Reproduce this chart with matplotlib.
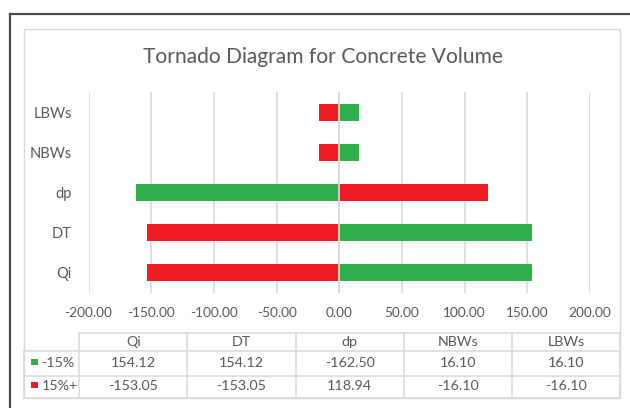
import matplotlib
matplotlib.use("Agg")
import matplotlib.pyplot as plt
from matplotlib.lines import Line2D
from matplotlib.patches import Rectangle

# Sensitivity data for concrete volume
categories = ["Qi", "DT", "dp", "NBWs", "LBWs"]
series_names = ["-15%", "15%+"]
minus15 = [154.12, 154.12, -162.50, 16.10, 16.10]
plus15 = [-153.05, -153.05, 118.94, -16.10, -16.10]
xticks = [-200, -150, -100, -50, 0, 50, 100, 150, 200]
title = "Tornado Diagram for Concrete Volume"

GREEN = "#31AF4B"
RED = "#EE1C25"
TEXT = "#595959"
GRID = "#D9D9D9"
FONT = "Lato"

W, H = 630, 408
fig = plt.figure(figsize=(W / 100, H / 100), dpi=100)
plt.rcParams["font.family"] = [FONT, "DejaVu Sans"]


def fx(px):
    return px / W


def fy(py):
    return 1 - py / H


# plot area in pixel coordinates
left, right, top, bottom = 88.5, 590.0, 92.0, 293.0
ax = fig.add_axes([fx(left), fy(bottom), fx(right - left), (bottom - top) / H])

ypos = list(range(len(categories)))
bar_h = 0.42
ax.barh(ypos, minus15, height=bar_h, color=GREEN, zorder=2)
ax.barh(ypos, plus15, height=bar_h, color=RED, zorder=2)
ax.axvline(0, color=GRID, lw=1.3, zorder=3)

ax.set_xlim(xticks[0], xticks[-1])
ax.set_ylim(-0.5, len(categories) - 0.5)
ax.set_xticks(xticks)
ax.set_xticklabels([f"{v:.2f}" for v in xticks])
ax.set_yticks(ypos)
ax.set_yticklabels(categories)
ax.xaxis.grid(True, color=GRID, lw=1.2, zorder=0)
ax.set_axisbelow(True)
ax.tick_params(axis="both", length=0, colors=TEXT)
ax.tick_params(axis="x", pad=10, labelsize=9.8)
ax.tick_params(axis="y", pad=12, labelsize=10.5)
for s in ax.spines.values():
    s.set_visible(False)

# title
fig.text(fx(322.5), fy(57), title, ha="center", va="center", color=TEXT,
         fontsize=15.1)

# outer dark border (extends past the canvas on right/bottom)
fig.add_artist(Line2D([fx(9.5), fx(9.5)], [fy(14), fy(H + 5)], color="#4A4A4A", lw=1.6))
fig.add_artist(Line2D([fx(9.5), fx(W + 5)], [fy(14), fy(14)], color="#4A4A4A", lw=1.6))

# inner light frame of the chart area
fig.add_artist(Rectangle((fx(24), fy(398)), fx(620 - 24), (398 - 28.7) / H,
                         transform=fig.transFigure, fill=False, ec=GRID, lw=1.0))

# data table
col_left = 79.3
col_right = 620.0
ncol = len(categories)
col_w = (col_right - col_left) / ncol
row_lines = [333.0, 351.0, 375.7, 398.0]
tl = dict(color=GRID, lw=1.1)
fig.add_artist(Line2D([fx(col_left), fx(col_right)], [fy(row_lines[0])] * 2, **tl))
for yl in row_lines[1:]:
    fig.add_artist(Line2D([fx(24), fx(col_right)], [fy(yl)] * 2, **tl))
for i in range(ncol + 1):
    xl = col_left + i * col_w
    fig.add_artist(Line2D([fx(xl)] * 2, [fy(row_lines[0]), fy(row_lines[-1])], **tl))
fig.add_artist(Line2D([fx(24)] * 2, [fy(row_lines[1]), fy(row_lines[-1])], **tl))

fs_table = 10.3
header_y = 342.0
row_y = [362.7, 385.5]
for i, cat in enumerate(categories):
    cx = col_left + (i + 0.5) * col_w
    fig.text(fx(cx), fy(header_y), cat, ha="center", va="center", color=TEXT, fontsize=fs_table)
    for r, vals in enumerate([minus15, plus15]):
        fig.text(fx(cx), fy(row_y[r]), f"{vals[i]:.2f}", ha="center", va="center",
                 color=TEXT, fontsize=fs_table)

# legend keys inside the table's first column
for r, (name, col) in enumerate(zip(series_names, [GREEN, RED])):
    sq = 6.5
    cy = row_y[r] - 0.5
    fig.add_artist(Rectangle((fx(31), fy(cy + sq / 2)), fx(sq), sq / H,
                             transform=fig.transFigure, color=col, lw=0))
    fig.text(fx(41.5), fy(row_y[r]), name, ha="left", va="center", color=TEXT, fontsize=fs_table)

fig.savefig("out.png", dpi=100)
